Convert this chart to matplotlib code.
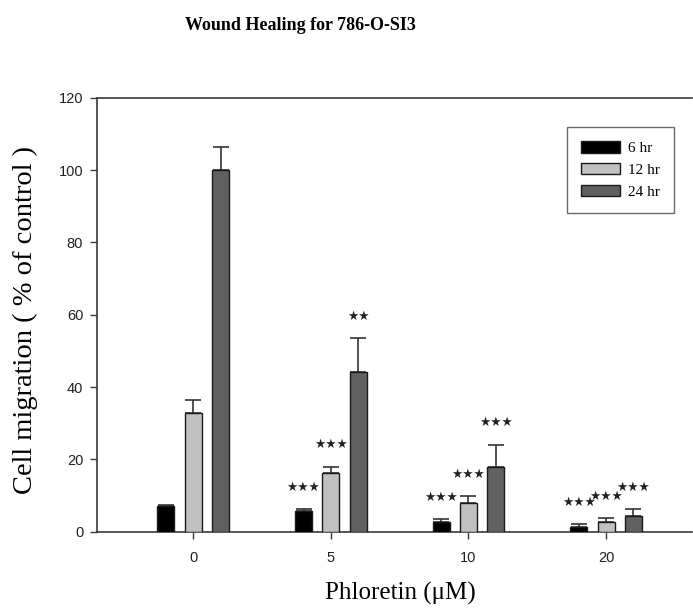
import numpy as np
import matplotlib
matplotlib.use("Agg")
import matplotlib.pyplot as plt

# Phloretin doses and time points
doses = ["0", "5", "10", "20"]
series = ["6 hr", "12 hr", "24 hr"]
colors = ["#000000", "#c0c0c0", "#606060"]

# mean cell migration (% of control) and upper error per time point
means = {
    "6 hr": [7.2, 5.6, 2.8, 1.4],
    "12 hr": [32.7, 16.1, 7.8, 2.8],
    "24 hr": [100.0, 44.2, 17.8, 4.3],
}
errors = {
    "6 hr": [0.3, 0.7, 0.7, 0.7],
    "12 hr": [3.6, 1.9, 2.1, 1.0],
    "24 hr": [6.3, 9.4, 6.3, 2.0],
}
# significance marks above each bar
stars = {
    "6 hr": ["", "***", "***", "***"],
    "12 hr": ["", "***", "***", "***"],
    "24 hr": ["", "**", "***", "***"],
}

fig = plt.figure(figsize=(6.93, 6.10), dpi=100)
ax = fig.add_axes([0.140, 0.1284, 0.8586, 0.7114])

x = np.arange(len(doses))
width = 0.123
offsets = [-0.199, 0.0, 0.199]
axis_col = "#3a3a3a"

for i, name in enumerate(series):
    pos = x + offsets[i]
    m = np.array(means[name])
    e = np.array(errors[name])
    ax.bar(pos, m, width, color=colors[i], edgecolor="#1a1a1a",
           linewidth=1.0, label=name, zorder=3)
    ax.errorbar(pos, m, yerr=[np.zeros_like(e), e], fmt="none",
                ecolor="#333333", elinewidth=1.2, capsize=5.5,
                capthick=1.2, zorder=2)
    for p, top, s in zip(pos, m + e, stars[name]):
        if s:
            ax.text(p, top + 6, "\u2605" * len(s), ha="center", va="center",
                    fontsize=9, color="#222222", family="DejaVu Sans")

ax.set_xlim(-0.70, 3.625)
ax.set_ylim(0, 120)
ax.set_yticks(range(0, 121, 20))
ax.set_xticks(x)
ax.set_xticklabels(doses)

for side in ["left", "bottom", "top"]:
    ax.spines[side].set_color(axis_col)
    ax.spines[side].set_linewidth(1.2)
ax.spines["right"].set_visible(False)

ax.tick_params(axis="y", direction="out", length=5, width=1.0,
               color=axis_col, pad=5, labelsize=10.5, labelcolor="#222222")
ax.tick_params(axis="x", direction="out", length=5, width=1.0,
               color=axis_col, pad=9, labelsize=10.5, labelcolor="#222222")
for lab in ax.get_xticklabels() + ax.get_yticklabels():
    lab.set_family("Liberation Sans")

ax.set_ylabel("Cell migration ( % of control )", family="Liberation Serif",
              fontsize=20.5)
ax.yaxis.set_label_coords(-0.0995, 0.487)
ax.set_xlabel("Phloretin (\u03bcM)", family="Liberation Serif", fontsize=18)
ax.xaxis.set_label_coords(0.509, -0.116)

fig.text(0.434, 0.958, "Wound Healing for 786-O-SI3", ha="center",
         va="center", family="Liberation Serif", fontweight="bold",
         fontsize=13)

leg = ax.legend(loc="upper right", bbox_to_anchor=(0.9703, 0.9332),
                borderaxespad=0, fancybox=False, frameon=True,
                prop={"family": "Liberation Serif", "size": 11},
                handlelength=2.55, handleheight=0.78, handletextpad=0.5,
                labelspacing=0.5, borderpad=0.95)
leg.get_frame().set_edgecolor("#444444")
leg.get_frame().set_linewidth(1.0)

fig.savefig("out.png", dpi=100)
